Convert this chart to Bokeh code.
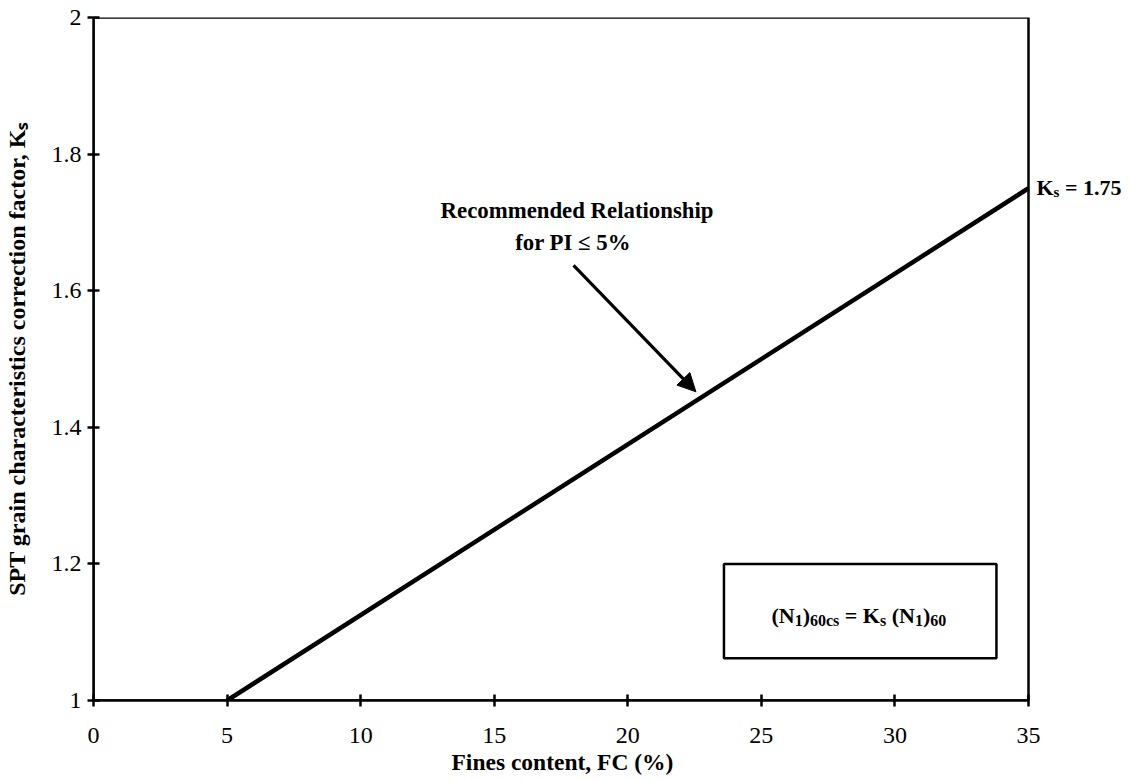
from bokeh.plotting import figure
from bokeh.models import (FixedTicker, Label, Arrow, NormalHead, BoxAnnotation, Range1d, Title)
from bokeh.embed import file_html
from bokeh.resources import INLINE

# ---- data ----
fines_content = [5, 35]
ks_values = [1.0, 1.75]
x_ticks = [0, 5, 10, 15, 20, 25, 30, 35]
y_ticks = [1.0, 1.2, 1.4, 1.6, 1.8, 2.0]
y_tick_labels = ["1", "1.2", "1.4", "1.6", "1.8", "2"]

SERIF = "Liberation Serif"

# frame extends to the right edge so the end label is not clipped; the chart box stops at FC = 35
X_MAX = 35
x_end = 1040 / (935 / X_MAX)

p = figure(width=1133, height=781, output_backend="svg", toolbar_location=None,
           x_range=Range1d(0, x_end), y_range=Range1d(1, 2),
           min_border_left=93, min_border_right=0, min_border_top=17, min_border_bottom=81)
p.xgrid.visible = False
p.ygrid.visible = False
p.outline_line_color = None
p.background_fill_color = "white"
p.border_fill_color = "white"

for ax in (p.xaxis[0], p.yaxis[0]):
    ax.axis_line_width = 2.5
    ax.axis_line_color = "black"
    ax.major_tick_line_width = 2.5
    ax.major_tick_in = 6
    ax.major_tick_out = 6
    ax.minor_tick_line_color = None
    ax.major_label_text_font = SERIF
    ax.major_label_text_font_size = "24px"
    ax.major_label_text_color = "black"
    ax.axis_label_text_font = SERIF
    ax.axis_label_text_font_style = "bold"
    ax.axis_label_text_color = "black"

p.xaxis.bounds = (0, X_MAX)
p.xaxis.ticker = FixedTicker(ticks=x_ticks)
p.yaxis.ticker = FixedTicker(ticks=y_ticks)
p.yaxis.major_label_overrides = {t: l for t, l in zip(y_ticks, y_tick_labels)}
p.xaxis.major_label_standoff = 21
p.yaxis.major_label_standoff = 6
p.yaxis.axis_label = "SPT grain characteristics correction factor, K\u209b"
p.yaxis.axis_label_text_font_size = "24px"
p.yaxis.axis_label_standoff = 19

# x-axis title, centred under the FC = 0..35 span (frame is wider than the chart box)
p.add_layout(Title(text="Fines content, FC (%)", align="left", offset=358, standoff=3,
                   text_font=SERIF, text_font_style="bold", text_font_size="23.5px",
                   text_color="black"), "below")

# chart box (top and right border)
p.add_layout(BoxAnnotation(left=0, right=X_MAX, bottom=1, top=2, fill_color=None,
                           line_color="black", line_alpha=1, line_width=2.5))

p.line(fines_content, ks_values, line_color="black", line_width=4.5)

# annotation text
lab_kw = dict(text_font=SERIF, text_font_style="bold", text_color="black")
p.add_layout(Label(x=18.1, y=1.718, text="Recommended Relationship", text_align="center",
                   text_baseline="middle", text_font_size="22.8px", **lab_kw))
p.add_layout(Label(x=17.95, y=1.67, text="for PI \u2264 5%", text_align="center",
                   text_baseline="middle", text_font_size="22.8px", **lab_kw))
p.add_layout(Arrow(x_start=17.97, y_start=1.637, x_end=22.55, y_end=1.452,
                   line_width=3.2, line_color="black",
                   end=NormalHead(size=18, fill_color="black", line_color="black")))

# Times-bold-like widths (per 1000 em)
W = {"(": 333, ")": 333, "N": 722, "K": 778, "=": 570, " ": 250, "c": 444, "s": 389,
     "0": 500, "1": 500, "6": 500, "7": 500, "5": 500, ".": 250}

def width(t, size):
    return sum(W[c] for c in t) * size / 1000.0

def rich(pieces, x, y, size, sub_size, align_center=True, x_pad=0, y_off=0):
    total = sum(width(t, sub_size if s else size) for t, s in pieces)
    off = -total / 2 if align_center else x_pad
    for t, s in pieces:
        fs = sub_size if s else size
        lead = len(t) - len(t.lstrip(" "))
        off_t = off + width(" " * lead, fs)
        p.add_layout(Label(x=x, y=y, x_offset=off_t, y_offset=y_off - (5 if s else 0),
                           text=t.strip(" "), text_align="left", text_baseline="alphabetic",
                           text_font_size=f"{fs}px", **lab_kw))
        off += width(t, fs)

# K_s = 1.75 label at the end of the line
rich([("K", False), ("s", True), (" = 1.75", False)], X_MAX, 1.75, 22, 15,
     align_center=False, x_pad=8, y_off=1)

# equation box
p.add_layout(BoxAnnotation(left=23.6, right=33.8, bottom=1.062, top=1.2,
                           fill_color=None, line_color="black", line_alpha=1, line_width=2.5))
rich([("(N", False), ("1", True), (")", False), ("60cs", True), (" = K", False), ("s", True),
      (" (N", False), ("1", True), (")", False), ("60", True)], 28.65, 1.1246, 22, 16)

open("out.html", "w").write(file_html(p, INLINE))
